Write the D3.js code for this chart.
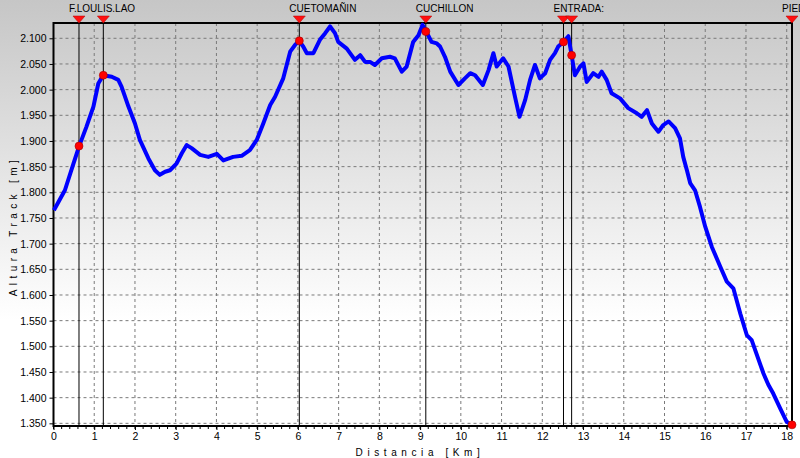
<!DOCTYPE html>
<html><head><meta charset="utf-8">
<script src="https://cdn.jsdelivr.net/npm/d3@7"></script>
<style>body{margin:0;overflow:hidden;background:#fff}svg{display:block;font-family:"Liberation Sans",Arial,sans-serif}</style>
</head><body>
<svg id="c" width="800" height="458"></svg>
<script>
const distKm = [0.01,0.28,0.49,0.63,0.81,0.98,1.10,1.22,1.43,1.59,1.67,1.84,2.0,2.12,2.33,2.49,2.61,2.74,2.86,3.02,3.15,3.27,3.39,3.60,3.80,4.01,4.17,4.41,4.62,4.82,4.99,5.15,5.32,5.44,5.64,5.81,5.93,6.03,6.13,6.22,6.38,6.54,6.67,6.79,6.91,6.99,7.20,7.40,7.53,7.65,7.77,7.89,8.06,8.26,8.38,8.55,8.67,8.83,8.96,9.06,9.14,9.28,9.41,9.49,9.61,9.74,9.94,10.10,10.23,10.35,10.54,10.68,10.80,10.88,11.04,11.17,11.33,11.44,11.58,11.70,11.82,11.94,12.07,12.19,12.31,12.39,12.52,12.64,12.72,12.80,12.93,13.01,13.09,13.25,13.38,13.46,13.58,13.70,13.91,14.11,14.32,14.44,14.57,14.69,14.85,14.97,15.10,15.26,15.38,15.46,15.55,15.63,15.75,15.87,16.00,16.16,16.37,16.53,16.69,16.86,17.02,17.14,17.27,17.43,17.55,17.67,17.84,18.00,18.12];
const elevM = [1765,1804,1856,1890,1928,1967,2012,2028,2025,2019,2006,1967,1934,1902,1866,1843,1834,1840,1843,1856,1876,1892,1886,1873,1869,1875,1862,1869,1871,1882,1902,1934,1970,1986,2022,2074,2087,2095,2084,2071,2071,2097,2110,2123,2110,2093,2080,2058,2067,2054,2054,2048,2061,2064,2061,2035,2045,2093,2106,2126,2115,2093,2090,2084,2064,2035,2009,2022,2032,2028,2009,2038,2071,2045,2061,2045,1986,1947,1980,2019,2048,2022,2032,2058,2071,2084,2093,2104,2067,2028,2045,2051,2015,2032,2025,2035,2019,1993,1983,1964,1954,1947,1960,1934,1918,1931,1938,1925,1905,1869,1843,1818,1804,1772,1733,1694,1655,1626,1613,1564,1522,1512,1483,1447,1425,1408,1379,1353,1347];
const wpKm = [0.626,1.223,6.035,9.14,12.52,12.72,18.13];
const wpElev = [1890,2028,2095,2113,2093,2067,1347];
const wpNames = ["F.LOULIS.LAO","","CUETOMAÑIN","CUCHILLON","ENTRADA:","","PIED"];
const xTicks = d3.range(0,19,1);
const yTicks = d3.range(1350,2101,50);

const svg = d3.select("#c");
const defs = svg.append("defs");
const g = defs.append("linearGradient").attr("id","bg").attr("x1",0).attr("y1",0).attr("x2",0).attr("y2",1);
g.append("stop").attr("offset","0%").attr("stop-color","#c6c6c6");
g.append("stop").attr("offset","70%").attr("stop-color","#ffffff");
g.append("stop").attr("offset","100%").attr("stop-color","#ffffff");
svg.append("rect").attr("width",800).attr("height",458).attr("fill","url(#bg)");

const x = d3.scaleLinear().domain([0,18.13]).range([53.5,792]);
const y = d3.scaleLinear().domain([1345,2129]).range([425.9,23.4]);

// grid
svg.append("g").selectAll("line").data(xTicks.slice(1)).join("line")
  .attr("x1",d=>x(d)).attr("x2",d=>x(d)).attr("y1",23).attr("y2",426)
  .attr("stroke","#7a7a7a").attr("stroke-dasharray","3,3").attr("stroke-width",1);
svg.append("g").selectAll("line").data(yTicks).join("line")
  .attr("x1",53.5).attr("x2",792).attr("y1",d=>y(d)).attr("y2",d=>y(d))
  .attr("stroke","#7a7a7a").attr("stroke-dasharray","3,3").attr("stroke-width",1);

// axes
const yAxis = svg.append("g").attr("transform","translate(53.5,0)")
  .call(d3.axisLeft(y).tickValues(yTicks).tickSize(4).tickFormat(d=>d3.format(".3f")(d/1000)));
yAxis.select(".domain").remove();
yAxis.selectAll("text").attr("font-size","10.5px").attr("fill","#000").attr("font-family","Liberation Sans, Arial, sans-serif");
const xAxis = svg.append("g").attr("transform","translate(0,426)")
  .call(d3.axisBottom(x).tickValues(xTicks).tickSize(4).tickPadding(3).tickFormat(d3.format("d")));
xAxis.select(".domain").remove();
xAxis.selectAll("text").attr("font-size","10.5px").attr("fill","#000").attr("font-family","Liberation Sans, Arial, sans-serif");
svg.append("g").selectAll("line").data(d3.range(0,18.1,0.2)).join("line")
  .attr("x1",d=>x(d)).attr("x2",d=>x(d)).attr("y1",426).attr("y2",429).attr("stroke","#000");

// border
svg.append("rect").attr("x",53.5).attr("y",23).attr("width",792-53.5).attr("height",403)
  .attr("fill","none").attr("stroke","#000").attr("stroke-width",2);

// waypoints
svg.append("g").selectAll("line").data(wpKm).join("line")
  .attr("x1",d=>x(d)).attr("x2",d=>x(d)).attr("y1",16).attr("y2",426).attr("stroke","#000").attr("stroke-width",1);

// profile
const line = d3.line().x((d,i)=>x(distKm[i])).y(d=>y(d)).curve(d3.curveLinear);
svg.append("path").attr("d",line(elevM)).attr("fill","none").attr("stroke","#0000ff").attr("stroke-width",4).attr("stroke-linejoin","round");

svg.append("g").selectAll("path").data(wpKm).join("path")
  .attr("d",d=>`M${x(d)-6},16L${x(d)+6},16L${x(d)},23Z`).attr("fill","#ff1010").attr("stroke","#b00000").attr("stroke-width",0.5);
svg.append("g").selectAll("circle").data(wpKm).join("circle")
  .attr("cx",d=>x(d)).attr("cy",(d,i)=>y(wpElev[i])).attr("r",4).attr("fill","#ff0000").attr("stroke","#a00000").attr("stroke-width",0.6);
svg.append("g").selectAll("text").data(wpNames).join("text")
  .attr("x",(d,i)=>x(wpKm[i])-10).attr("y",12).attr("font-size","10px").attr("fill","#000").text(d=>d);

// titles
svg.append("text").attr("x",420).attr("y",456).attr("text-anchor","middle").attr("font-size","10px")
  .attr("letter-spacing","4.6px").text("Distancia [Km]");
svg.append("text").attr("transform","translate(17,226) rotate(-90)").attr("text-anchor","middle").attr("font-size","10px")
  .attr("letter-spacing","4.4px").text("Altura Track [m]");
</script>
</body></html>
